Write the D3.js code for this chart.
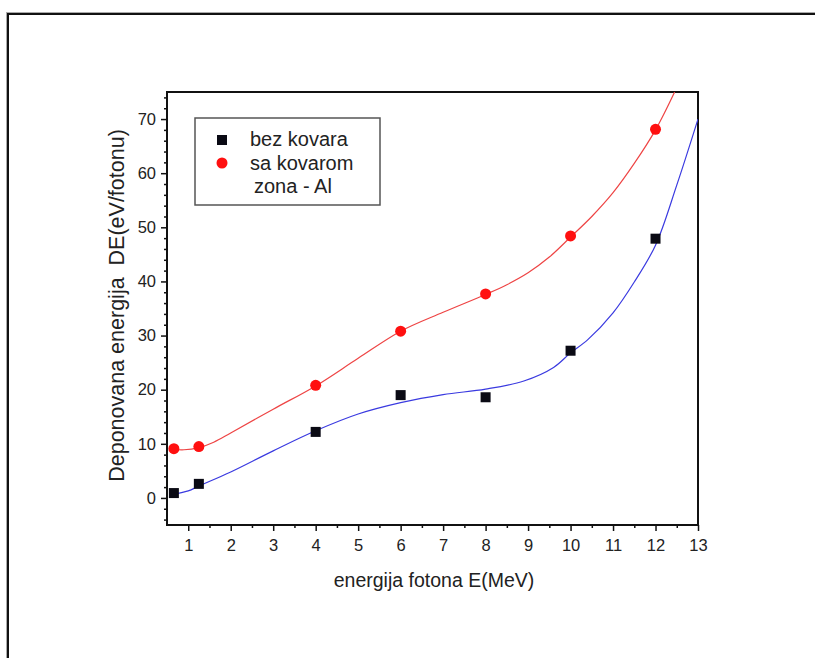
<!DOCTYPE html>
<html>
<head>
<meta charset="utf-8">
<script src="https://cdn.jsdelivr.net/npm/d3@7"></script>
<style>
  html, body { margin: 0; padding: 0; background: #fff; }
  svg { display: block; }
  text { font-family: "Liberation Sans", Arial, sans-serif; fill: #222; white-space: pre; }
</style>
</head>
<body>
<svg id="chart" width="815" height="658"></svg>
<script>
// ---- data ----
const energy = [0.662, 1.25, 4, 6, 8, 10, 12];
const bezKovara = [0.9, 2.6, 12.2, 19.0, 18.6, 27.2, 47.9];
const saKovarom = [9.1, 9.5, 20.8, 30.8, 37.7, 48.4, 68.1];

// fitted curves as drawn in the reference
const fitBezX = [0.6, 1.0, 1.25, 2, 3, 4, 5, 6, 7, 8, 8.9, 9.6, 10, 10.4, 11, 11.5, 12, 12.5, 13];
const fitBezY = [0.6, 1.3, 2.2, 4.8, 8.7, 12.4, 15.5, 17.6, 19.1, 20.1, 21.6, 24.1, 26.8, 29.2, 34.2, 39.9, 46.7, 57.8, 70];
const fitSaX = [0.62, 0.9, 1.25, 1.6, 2, 3, 4, 5, 6, 7, 8, 8.5, 9, 9.5, 10, 10.5, 11, 11.5, 12, 12.45];
const fitSaY = [9.0, 8.9, 9.3, 10.3, 12.0, 16.4, 20.7, 25.8, 30.8, 34.3, 37.6, 39.4, 41.6, 44.5, 48.2, 52.0, 56.4, 61.8, 68.0, 75];

const xTicks = [1, 2, 3, 4, 5, 6, 7, 8, 9, 10, 11, 12, 13];
const xMinorTicks = [1.5, 2.5, 3.5, 4.5, 5.5, 6.5, 7.5, 8.5, 9.5, 10.5, 11.5, 12.5];
const yTicks = [0, 10, 20, 30, 40, 50, 60, 70];
const yMinorTicks = [-4, -2, 2, 4, 6, 8, 12, 14, 16, 18, 22, 24, 26, 28, 32, 34, 36, 38, 42, 44, 46, 48, 52, 54, 56, 58, 62, 64, 66, 68, 72, 74];

const xLabel = "energija fotona E(MeV)";
const yLabel = "Deponovana energija  DE(eV/fotonu)";
const legendLabels = ["bez kovara", "sa kovarom", "zona - Al"];

// ---- layout ----
const svg = d3.select("#chart");
const L = 167, R = 698, T = 92, B = 525;

// outer frame
svg.append("rect").attr("x", 6.5).attr("y", 12.5).attr("width", 830).attr("height", 700)
  .attr("fill", "none").attr("stroke", "#aaa").attr("stroke-width", 1);
svg.append("rect").attr("x", 8).attr("y", 14).attr("width", 830).attr("height", 700)
  .attr("fill", "none").attr("stroke", "#111").attr("stroke-width", 2);

const x = d3.scaleLinear().domain([0.5, 13]).range([L, R]);
const y = d3.scaleLinear().domain([-5, 75]).range([B, T]);

// clip
svg.append("clipPath").attr("id", "clip").append("rect")
  .attr("x", L).attr("y", T).attr("width", R - L).attr("height", B - T);

// axes
svg.append("g").attr("transform", `translate(0,${B})`)
  .call(d3.axisBottom(x).tickValues(xTicks).tickSize(6).tickPadding(8).tickFormat(d3.format("d")));
svg.append("g").attr("transform", `translate(0,${B})`)
  .call(d3.axisBottom(x).tickValues(xMinorTicks).tickSize(3).tickFormat(""));
svg.append("g").attr("transform", `translate(${L},0)`)
  .call(d3.axisLeft(y).tickValues(yTicks).tickSize(6).tickPadding(5).tickFormat(d3.format("d")));
svg.append("g").attr("transform", `translate(${L},0)`)
  .call(d3.axisLeft(y).tickValues(yMinorTicks).tickSize(3).tickFormat(""));

svg.selectAll(".tick line").attr("stroke", "#111").attr("stroke-width", 1.5);
svg.selectAll(".domain").remove();
svg.selectAll(".tick text").attr("font-size", 16.5).attr("fill", "#222")
  .attr("font-family", "Liberation Sans, Arial, sans-serif");

// box
svg.append("rect").attr("x", L).attr("y", T).attr("width", R - L).attr("height", B - T)
  .attr("fill", "none").attr("stroke", "#111").attr("stroke-width", 2);

// curves
const line = d3.line().x(d => x(d[0])).y(d => y(d[1])).curve(d3.curveCatmullRom.alpha(0.5));
const plot = svg.append("g").attr("clip-path", "url(#clip)");
plot.append("path").datum(fitBezX.map((v, i) => [v, fitBezY[i]]))
  .attr("d", line).attr("fill", "none").attr("stroke", "#3a3ae0").attr("stroke-width", 1.2);
plot.append("path").datum(fitSaX.map((v, i) => [v, fitSaY[i]]))
  .attr("d", line).attr("fill", "none").attr("stroke", "#ee4444").attr("stroke-width", 1.2);

// markers
plot.selectAll("rect.sq").data(energy.map((v, i) => [v, bezKovara[i]])).enter()
  .append("rect").attr("class", "sq")
  .attr("x", d => x(d[0]) - 5).attr("y", d => y(d[1]) - 5)
  .attr("width", 10).attr("height", 10).attr("fill", "#0a0a14");
plot.selectAll("circle.ci").data(energy.map((v, i) => [v, saKovarom[i]])).enter()
  .append("circle").attr("class", "ci")
  .attr("cx", d => x(d[0])).attr("cy", d => y(d[1])).attr("r", 5.5).attr("fill", "#ff1010");

// axis labels
svg.append("text").attr("x", 434).attr("y", 587).attr("text-anchor", "middle")
  .attr("font-size", 19.5).text(xLabel);
svg.append("text").attr("transform", `translate(124,${(T + B) / 2 - 3}) rotate(-90)`)
  .attr("text-anchor", "middle").attr("font-size", 21.5).text(yLabel);

// legend
const lg = svg.append("g");
lg.append("rect").attr("x", 195).attr("y", 118).attr("width", 185).attr("height", 87)
  .attr("fill", "#fff").attr("stroke", "#555").attr("stroke-width", 1.5);
lg.append("rect").attr("x", 217).attr("y", 135).attr("width", 10).attr("height", 10).attr("fill", "#0a0a14");
lg.append("circle").attr("cx", 222).attr("cy", 163).attr("r", 5.5).attr("fill", "#ff1010");
lg.append("text").attr("x", 250).attr("y", 146).attr("font-size", 20).text(legendLabels[0]);
lg.append("text").attr("x", 250).attr("y", 170).attr("font-size", 20).text(legendLabels[1]);
lg.append("text").attr("x", 254).attr("y", 193).attr("font-size", 20).text(legendLabels[2]);
</script>
</body>
</html>
